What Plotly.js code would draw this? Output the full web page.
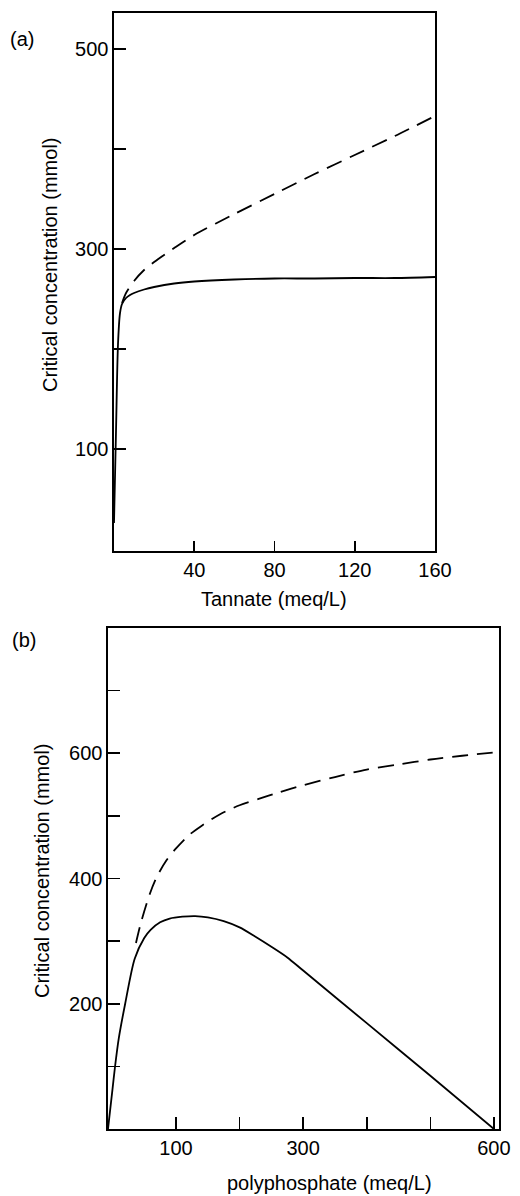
<!DOCTYPE html>
<html>
<head>
<meta charset="utf-8">
<script src="https://cdn.plot.ly/plotly-3.0.1.min.js"></script>
<style>html,body{margin:0;padding:0;background:#fff;}#chart{width:520px;height:1196px;}</style>
</head>
<body>
<div id="chart"></div>
<script>
// Panel (a): Tannate
const tannateX_solid = [0, 1, 2, 3, 4, 6, 8, 10, 15, 20, 30, 40, 60, 80, 100, 120, 140, 160];
const tannateY_solid = [26, 118, 205, 236, 245, 251, 254, 256, 259.5, 262, 265.5, 267.5, 269.5, 270.5, 270.5, 271, 271, 272];
const tannateX_dash = [4, 6, 10, 15, 20, 30, 40, 60, 80, 100, 120, 140, 160];
const tannateY_dash = [246, 256, 268, 279, 287, 301, 314, 335, 355, 375, 394, 413, 433];
// Panel (b): polyphosphate
const polyX_solid = [-7, 0, 4, 10, 20, 35, 50, 60, 75, 90, 110, 130, 150, 175, 200, 225, 250, 275, 300, 400, 500, 600];
const polyY_solid = [0, 63, 99, 145, 200, 272, 305, 318, 330, 336, 339, 340, 338, 332, 322, 307, 291, 274, 253, 169, 85, 0];
const polyX_dash = [37, 45, 59, 70, 85, 100, 120, 140, 170, 200, 230, 260, 300, 350, 400, 450, 500, 550, 607];
const polyY_dash = [297, 330, 376, 403, 429, 448, 469, 484, 503, 517, 527, 537, 549, 562, 574, 582, 590, 596, 602];

const yTitle = 'Critical concentration (mmol)';
const xTitleA = 'Tannate (meq/L)';
const xTitleB = 'polyphosphate (meq/L)';
const panelA = '(a)';
const panelB = '(b)';

const tickValsAX = [40, 80, 120, 160];
const tickValsAY = [100, 200, 300, 400, 500];
const tickTextAY = ['100', '', '300', '', '500'];
const tickValsBX = [100, 200, 300, 400, 500, 600];
const tickTextBX = ['100', '', '300', '', '', '600'];
const tickValsBY = [100, 200, 300, 400, 500, 600, 700];
const tickTextBY = ['', '200', '', '400', '', '600', ''];

const W = 520, H = 1196;
const FONT = 'Liberation Sans, Arial, Helvetica, sans-serif';
const lineStyle = {color: '#000', width: 1.8, shape: 'spline', smoothing: 0.8};
const dashStyle = {color: '#000', width: 1.8, dash: '16px,9px', shape: 'spline', smoothing: 0.8};

const traces = [
  {x: tannateX_solid, y: tannateY_solid, mode: 'lines', line: lineStyle, xaxis: 'x', yaxis: 'y', showlegend: false, hoverinfo: 'skip'},
  {x: tannateX_dash, y: tannateY_dash, mode: 'lines', line: dashStyle, xaxis: 'x', yaxis: 'y', showlegend: false, hoverinfo: 'skip'},
  {x: polyX_solid, y: polyY_solid, mode: 'lines', line: lineStyle, xaxis: 'x2', yaxis: 'y2', showlegend: false, hoverinfo: 'skip'},
  {x: polyX_dash, y: polyY_dash, mode: 'lines', line: dashStyle, xaxis: 'x2', yaxis: 'y2', showlegend: false, hoverinfo: 'skip'}
];

const axCommon = {
  showgrid: false, zeroline: false, showline: true, linecolor: '#000', linewidth: 1.6,
  mirror: true, ticks: 'inside', tickcolor: '#000', tickwidth: 1.6,
  tickfont: {family: FONT, size: 20, color: '#000'}, tickmode: 'array', fixedrange: true
};

function px(x) { return x / W; }
function py(y) { return 1 - y / H; }
function ann(text, x, y, angle) {
  return {text: text, x: px(x), y: py(y), xref: 'paper', yref: 'paper', showarrow: false,
    xanchor: 'center', yanchor: 'middle', textangle: angle || 0,
    font: {family: FONT, size: 20, color: '#000'}};
}

const layout = {
  width: W, height: H,
  margin: {l: 0, r: 0, t: 0, b: 0},
  paper_bgcolor: '#fff', plot_bgcolor: '#fff',
  showlegend: false,
  font: {family: FONT, color: '#000'},
  xaxis: Object.assign({}, axCommon, {
    domain: [px(114), px(435)], range: [0, 160], anchor: 'y',
    tickvals: tickValsAX, ticktext: tickValsAX.map(String), ticklen: 10, ticklabelstandoff: 0
  }),
  yaxis: Object.assign({}, axCommon, {
    domain: [py(551), py(13)], range: [-2, 536], anchor: 'x',
    tickvals: tickValsAY, ticktext: tickTextAY, ticklen: 12, ticklabelstandoff: 0
  }),
  xaxis2: Object.assign({}, axCommon, {
    domain: [px(108), px(499)], range: [-7, 608], anchor: 'y2',
    tickvals: tickValsBX, ticktext: tickTextBX, ticklen: 12, ticklabelstandoff: 0
  }),
  yaxis2: Object.assign({}, axCommon, {
    domain: [py(1129), py(628)], range: [0, 800], anchor: 'x2',
    tickvals: tickValsBY, ticktext: tickTextBY, ticklen: 12, ticklabelstandoff: 0
  }),
  annotations: [
    ann(panelA, 22, 39),
    ann(panelB, 24, 640),
    ann(yTitle, 50, 265, -90),
    ann(yTitle, 42, 871, -90),
    ann(xTitleA, 274, 599),
    ann(xTitleB, 329, 1183)
  ]
};

Plotly.newPlot('chart', traces, layout, {staticPlot: true, displayModeBar: false});
</script>
</body>
</html>
